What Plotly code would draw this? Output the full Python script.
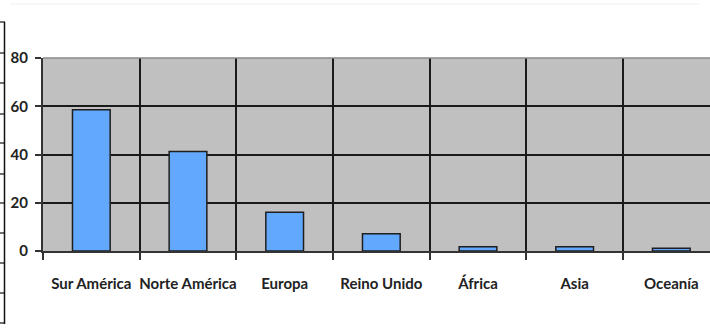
import plotly.graph_objects as go

# Share by region
regions = ["Sur América", "Norte América", "Europa", "Reino Unido", "África", "Asia", "Oceanía"]
values = [58.6, 41.2, 16.1, 7.1, 1.8, 1.8, 1.1]
y_ticks = [0, 20, 40, 60, 80]

W, H = 710, 328
L, R, T, B = 43, 0, 58, 77
PW, PH = W - L - R, H - T - B

FONT = "Liberation Sans Narrow, Lato, Arial Narrow, sans-serif"
TXT = "#222222"


def px_x(px):
    return (px - L) / PW


def px_y(py):
    return (H - B - py) / PH


fig = go.Figure(
    go.Bar(
        x=regions,
        y=values,
        width=0.39,
        marker=dict(color="#62a8ff", line=dict(color="#1e1e1e", width=1.5)),
    )
)

shapes = []
# thin rule across the top of the page
shapes.append(dict(type="line", xref="paper", yref="paper",
                   x0=px_x(10), x1=px_x(700), y0=px_y(4), y1=px_y(4),
                   line=dict(color="#f0f0f0", width=1)))
# bracket along the left margin
shapes.append(dict(type="line", xref="paper", yref="paper",
                   x0=px_x(4.5), x1=px_x(4.5), y0=px_y(22), y1=px_y(324),
                   line=dict(color="#111111", width=1.5)))
for py in [22, 53, 83, 114, 143, 174, 203, 233, 263, 293, 323]:
    shapes.append(dict(type="line", xref="paper", yref="paper",
                       x0=px_x(0), x1=px_x(5), y0=px_y(py), y1=px_y(py),
                       line=dict(color="#111111", width=1.2)))
# lighter top edge of the plot area
shapes.append(dict(type="line", xref="paper", yref="paper", layer="above",
                   x0=0, x1=1, y0=1, y1=1,
                   line=dict(color="#8a8a8a", width=1.5)))

fig.update_layout(
    width=W, height=H,
    margin=dict(l=L, r=R, t=T, b=B, pad=0, autoexpand=False),
    paper_bgcolor="white",
    plot_bgcolor="#c0c0c0",
    showlegend=False,
    bargap=0.61,
    shapes=shapes,
    font=dict(family=FONT, color=TXT, size=15),
    xaxis=dict(
        type="category",
        range=[-0.5, 6.4],
        tickson="boundaries",
        tickangle=0,
        automargin=False,
        ticks="outside", ticklen=7, tickcolor="#333333", tickwidth=1.5,
        showgrid=True, gridcolor="#1a1a1a", gridwidth=1.5,
        showline=True, linecolor="#333333", linewidth=2,
        ticklabelstandoff=18,
        tickfont=dict(family=FONT, size=15, color=TXT, weight="bold"),
        fixedrange=True,
    ),
    yaxis=dict(
        range=[0, 80],
        tickvals=y_ticks,
        automargin=False,
        ticks="outside", ticklen=6, tickcolor="#333333", tickwidth=1.5,
        showgrid=True, gridcolor="#1a1a1a", gridwidth=1.5,
        showline=True, linecolor="#333333", linewidth=2,
        zeroline=False,
        ticklabelstandoff=4,
        tickfont=dict(family=FONT, size=15, color=TXT, weight="bold"),
        fixedrange=True,
    ),
)

fig.write_html("out.html")
